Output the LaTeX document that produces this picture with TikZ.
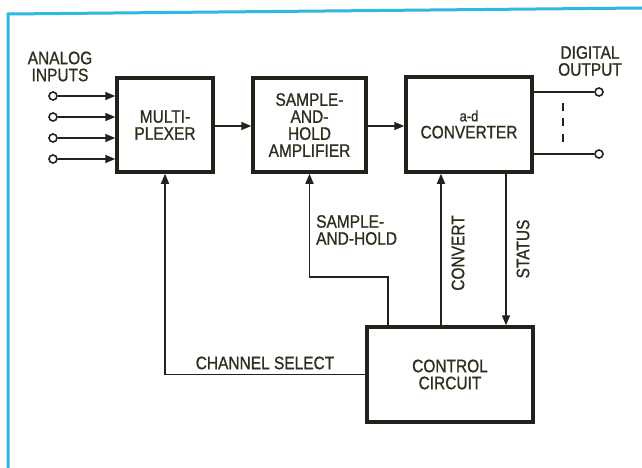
\documentclass[tikz,border=0pt]{standalone}
\usepackage{fontspec}
\setmainfont{Liberation Sans}[FakeStretch=0.86,FakeBold=0.9]
\usetikzlibrary{arrows.meta}
\definecolor{ink}{HTML}{22221A}
\definecolor{txt}{HTML}{2E2E1C}
\definecolor{framec}{HTML}{2FB8E0}
\begin{document}
\begin{tikzpicture}[x=1pt,y=-1pt,
  blk/.style={draw=ink,line width=3.5pt,inner sep=0pt,align=center,font=\fontsize{18}{17}\selectfont,text=txt},
  wire/.style={draw=ink,line width=1.6pt},
  arr/.style={wire,-{Triangle[length=10pt,width=8pt]}},
  lbl/.style={font=\fontsize{18}{17}\selectfont,text=txt,inner sep=0pt,align=center},
  term/.style={circle,draw=ink,line width=1.6pt,fill=white,minimum size=8pt,inner sep=0pt}]
\useasboundingbox (0,0) rectangle (642,468);
\fill[white] (0,0) rectangle (642,468);
% frame
\draw[framec,line width=3pt] (8,468) -- (8,14) -- (642,8);
% blocks
\node[blk,minimum width=96pt,minimum height=94pt] (mux) at (165,125) {MULTI-\\PLEXER};
\node[blk,minimum width=113pt,minimum height=94pt] (sh) at (309.5,125) {SAMPLE-\\AND-\\HOLD\\AMPLIFIER};
\node[blk,minimum width=126pt,minimum height=95pt] (adc) at (469,124.5) {{\fontsize{15}{15}\selectfont a-d}\\CONVERTER};
\node[blk,minimum width=166pt,minimum height=95pt] (ctrl) at (450,374.5) {CONTROL\\CIRCUIT};
% inputs
\foreach \i/\yy in {1/96,2/117,3/138,4/159}{
  \node[term] (in\i) at (53,\yy) {};
  \draw[arr] (in\i.east) -- (in\i -| mux.west);
}
% chain
\coordinate (chain) at (0,126);
\draw[arr] (mux.east |- chain) -- (sh.west |- chain);
\draw[arr] (sh.east |- chain) -- (adc.west |- chain);
% outputs
\node[term] (o1) at (599,92) {};
\node[term] (o2) at (599,154) {};
\draw[wire] (adc.east |- o1) -- (o1.west);
\draw[wire] (adc.east |- o2) -- (o2.west);
\coordinate (d1) at (563,103);
\coordinate (d2) at (563,142);
\draw[wire,dash pattern=on 8pt off 7.5pt] (d1) -- (d2);
% control connections
\draw[arr] (ctrl.west) -| (mux.south);
\coordinate (shbend) at (388,277);
\draw[arr] (ctrl.north -| shbend) -- (shbend) -| (sh.south);
\coordinate (cvx) at (441,0);
\draw[arr] (ctrl.north -| cvx) -- (adc.south -| cvx);
\coordinate (stx) at (506,0);
\draw[arr] (adc.south -| stx) -- (ctrl.north -| stx);
% labels
\node[lbl] (ai) at (60,66.5) {ANALOG\\INPUTS};
\node[lbl] (do) at (590,61) {DIGITAL\\OUTPUT};
\node[lbl] (csl) at (265,363) {CHANNEL SELECT};
\node[lbl,align=left,anchor=west] (shl) at (316,230) {SAMPLE-\\AND-HOLD};
\node[lbl,rotate=90] (cvl) at (458,253) {CONVERT};
\node[lbl,rotate=90] (stl) at (523,249) {STATUS};
\end{tikzpicture}
\end{document}
